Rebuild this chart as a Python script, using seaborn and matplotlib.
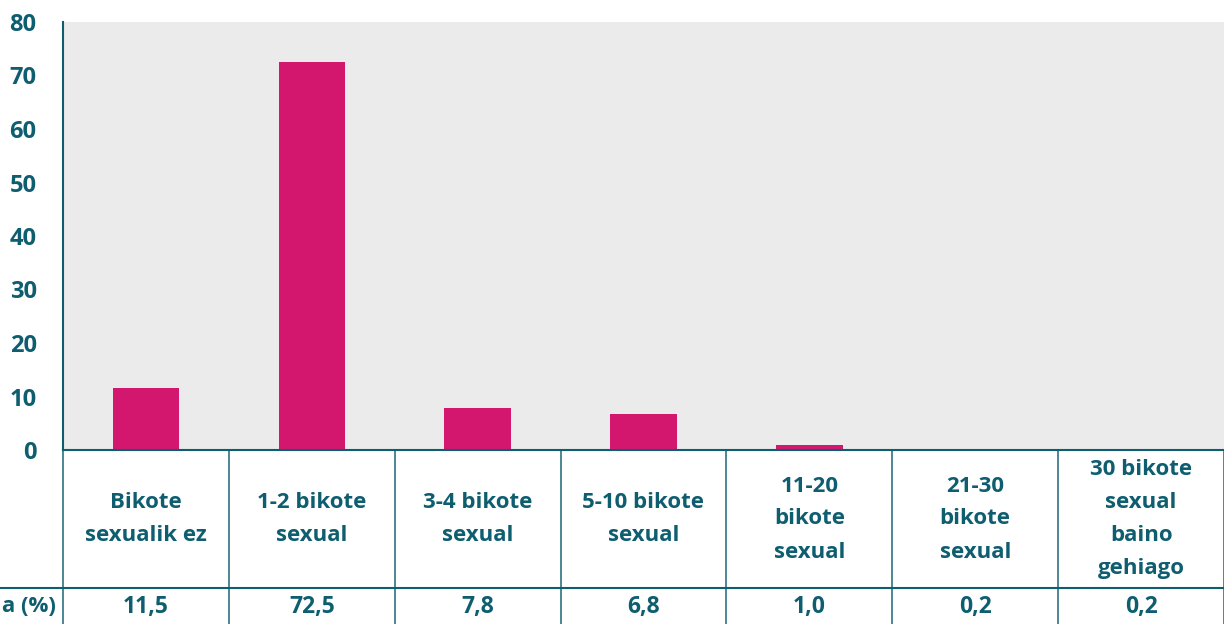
import pandas as pd
import matplotlib.pyplot as plt
import seaborn as sns

categories = ['Bikote\nsexualik ez', '1-2 bikote\nsexual', '3-4 bikote\nsexual', '5-10 bikote\nsexual',
              '11-20\nbikote\nsexual', '21-30\nbikote\nsexual', '30 bikote\nsexual\nbaino\ngehiago']
values = [11.5, 72.5, 7.8, 6.8, 1.0, 0.2, 0.2]
value_labels = ['11,5', '72,5', '7,8', '6,8', '1,0', '0,2', '0,2']
row_label = 'a (%)'

teal = '#0E5E70'
magenta = '#D3176F'

sns.set_style('white')
plt.rcParams['font.family'] = ['Open Sans', 'DejaVu Sans']

df = pd.DataFrame({'cat': categories, 'val': values})

fig = plt.figure(figsize=(12.24, 6.24), dpi=100)
ax = fig.add_axes([63 / 1224, 1 - 450 / 624, 1 - 63 / 1224, 428 / 624])
ax.set_facecolor('#EBEBEB')
sns.barplot(data=df, x='cat', y='val', color=magenta, width=0.4, saturation=1, linewidth=0, ax=ax)

ax.set_xlim(-0.5, len(categories) - 0.5)
ax.set_ylim(0, 80)
ax.set_yticks(range(0, 81, 10))
ax.set_yticklabels([str(v) for v in range(0, 81, 10)], fontsize=17, fontweight='bold', color=teal)
ax.tick_params(axis='y', length=0, pad=19)
ax.set_xticks([])
ax.set_xlabel('')
ax.set_ylabel('')
for s in ['top', 'right']:
    ax.spines[s].set_visible(False)
ax.spines['left'].set_color(teal)
ax.spines['left'].set_linewidth(1.5)
ax.spines['bottom'].set_color(teal)
ax.spines['bottom'].set_linewidth(1.5)

# table beneath the chart
row1 = -138 / 428
bottom = -0.45
tr = ax.get_xaxis_transform()
for i in range(len(categories) + 1):
    ax.plot([i - 0.5, i - 0.5], [0, bottom], transform=tr, color=teal, lw=1.3, clip_on=False, alpha=0.8)
ax.plot([-0.5 - 0.4, len(categories) - 0.5], [row1, row1], transform=tr, color=teal, lw=1.5, clip_on=False)

for i, (c, v) in enumerate(zip(categories, value_labels)):
    ax.text(i, -69 / 428, c, transform=tr, ha='center', va='center', fontsize=16,
            fontweight='bold', color=teal, linespacing=1.75)
    ax.text(i, -157 / 428, v, transform=tr, ha='center', va='center', fontsize=16.5,
            fontweight='bold', color=teal)

fig.text(56 / 1224, 1 - 607 / 624, row_label, ha='right', va='center', fontsize=16,
         fontweight='bold', color=teal)

fig.savefig('out.png', dpi=100)
